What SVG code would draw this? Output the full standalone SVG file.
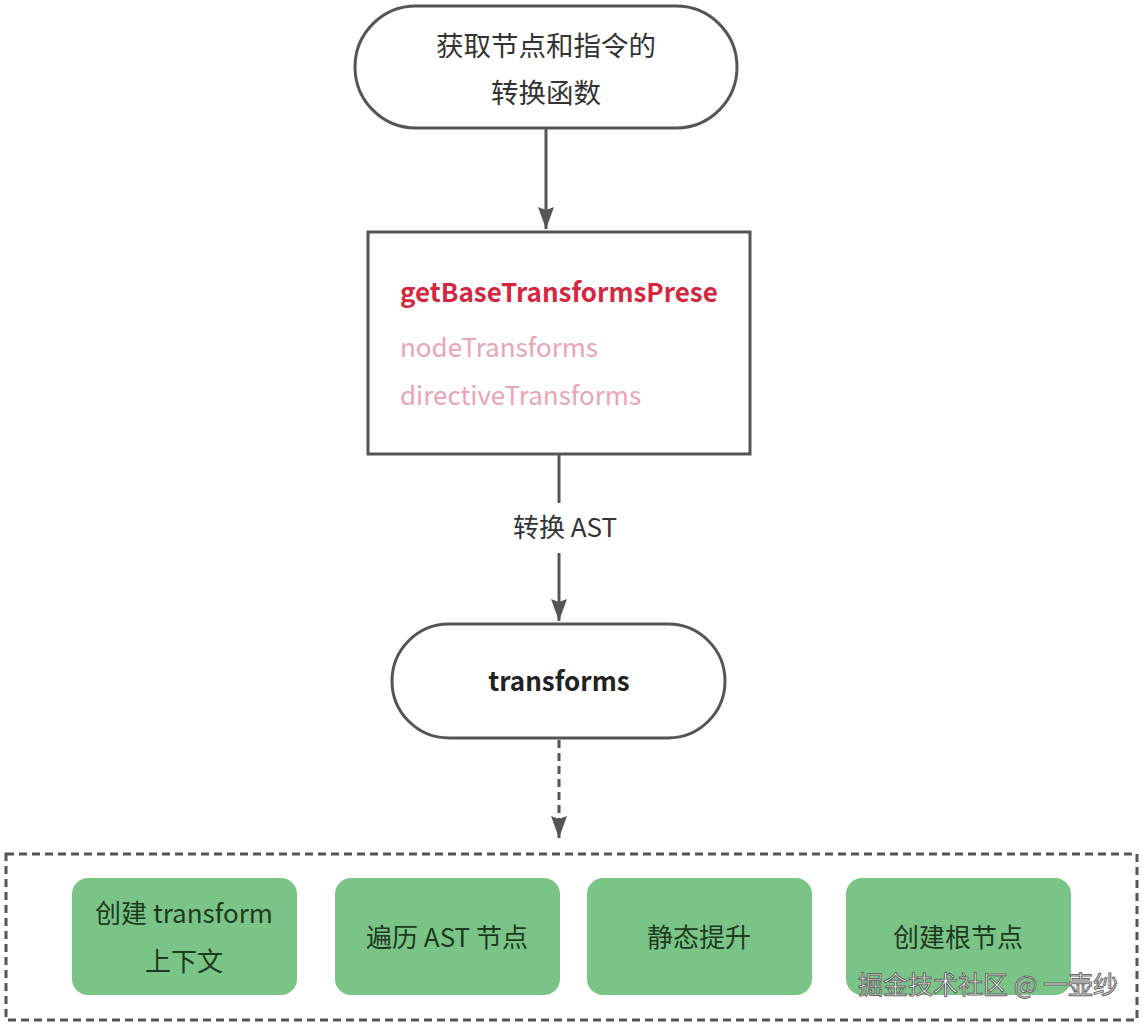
<svg xmlns="http://www.w3.org/2000/svg" width="1146" height="1026" viewBox="0 0 1146 1026">
<defs>
<style>
.t{font-family:"Noto Sans CJK SC","Noto Sans",sans-serif;font-size:26px;fill:#333;text-anchor:middle}
.g{font-family:"Noto Sans CJK SC","Noto Sans",sans-serif;font-size:26px;fill:#1e3a1e;text-anchor:middle}
.shape{fill:#fff;stroke:#555;stroke-width:3}
.green{fill:#7ac488;stroke:none}
.conn{stroke:#555;stroke-width:3;fill:none}
.code{font-family:"Noto Sans CJK SC","Noto Sans",sans-serif;font-size:26px}
</style>
<marker id="arr" viewBox="0 0 22 16" refX="22" refY="8" markerWidth="22" markerHeight="16" markerUnits="userSpaceOnUse" orient="auto">
<path d="M0,0 L22,8 L0,16 L3,8 z" fill="#555"/>
</marker>
</defs>
<rect width="1146" height="1026" fill="#fff"/>
<g id="connectors">
<line class="conn" x1="546" y1="129" x2="546" y2="229" marker-end="url(#arr)"/>
<line class="conn" x1="559" y1="455" x2="559" y2="503"/>
<line class="conn" x1="559" y1="553" x2="559" y2="621" marker-end="url(#arr)"/>
<line class="conn" x1="559" y1="740" x2="559" y2="838" stroke-dasharray="8 5" marker-end="url(#arr)"/>
<text class="t" x="565" y="537">转换 AST</text>
</g>
<g id="n1">
<rect class="shape" x="355" y="6" width="382" height="122" rx="61"/>
<text class="t" x="546" y="56" style="font-size:27.5px">获取节点和指令的</text>
<text class="t" x="546" y="103" style="font-size:27.5px">转换函数</text>
</g>
<g id="n2">
<rect class="shape" x="368" y="232" width="382" height="222"/>
<text class="code" x="400" y="302" style="font-weight:bold;fill:#d3283f">getBaseTransformsPrese</text>
<text class="code" x="400" y="357" style="fill:#eaa4b3">nodeTransforms</text>
<text class="code" x="400" y="405" style="fill:#eaa4b3">directiveTransforms</text>
</g>
<g id="n3">
<rect class="shape" x="392" y="624" width="333" height="114" rx="57"/>
<text class="t" x="559" y="691" style="font-weight:bold;fill:#222">transforms</text>
</g>
<g id="container">
<rect x="6" y="854" width="1131" height="166" fill="none" stroke="#555" stroke-width="3" stroke-dasharray="8 5"/>
</g>
<g id="b1">
<rect class="green" x="72" y="878" width="225" height="117" rx="16"/>
<text class="g" x="184" y="923">创建 transform</text>
<text class="g" x="184" y="971">上下文</text>
</g>
<g id="b2">
<rect class="green" x="335" y="878" width="225" height="117" rx="16"/>
<text class="g" x="447" y="947">遍历 AST 节点</text>
</g>
<g id="b3">
<rect class="green" x="587" y="878" width="225" height="117" rx="16"/>
<text class="g" x="699" y="947">静态提升</text>
</g>
<g id="b4">
<rect class="green" x="846" y="878" width="225" height="117" rx="16"/>
<text class="g" x="958" y="947">创建根节点</text>
</g>
<text x="988" y="994" style="font-family:'Noto Sans CJK SC',sans-serif;font-size:25px;fill:#fff;stroke:#666;stroke-width:1;text-anchor:middle">掘金技术社区 @ 一壶纱</text>
</svg>
